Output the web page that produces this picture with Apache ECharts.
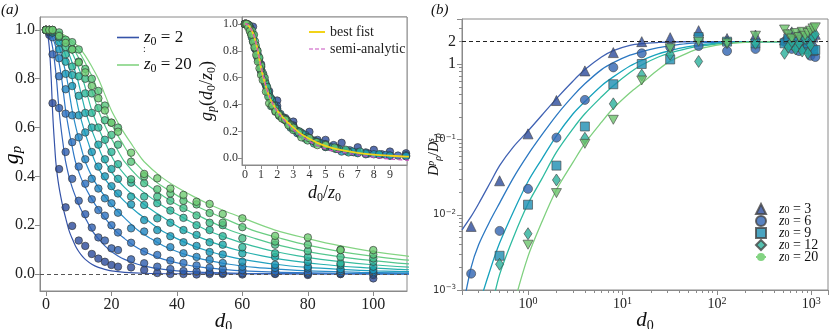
<!DOCTYPE html>
<html><head><meta charset="utf-8">
<script src="https://cdn.jsdelivr.net/npm/echarts@6.0.0/dist/echarts.min.js"></script>
<style>html,body{margin:0;padding:0;background:#fff}#c{width:831px;height:329px}</style>
</head><body><div id="c"></div>
<script>
// ---------- Panel (a) data ----------
const D0_A = [0,1,2,4,6,8,10,12,14,16,18,20,22,26,30,34,38,42,46,50,54,60,70,80,90,100];
const Z0_A = [2,4,6,8,10,12,14,16,18,20];
const gp_z2  = [1.0,0.98,0.70,0.43,0.273,0.197,0.137,0.115,0.082,0.063,0.05,0.037,0.03,0.027,0.016,0.004,0.0,0.0,-0.002,0.0,0.0,-0.002,0.0,-0.004,0.0,-0.018];
const gp_z4  = [1.0,0.99,0.90,0.68,0.50,0.39,0.30,0.245,0.19,0.15,0.137,0.105,0.098,0.06,0.044,0.03,0.02,0.012,0.01,0.006,0.004,0.003,0.002,0.0,0.0,-0.004];
const gp_z6  = [1.0,0.995,0.97,0.81,0.657,0.54,0.44,0.37,0.306,0.262,0.239,0.2,0.17,0.128,0.092,0.078,0.055,0.045,0.035,0.026,0.02,0.016,0.01,0.006,0.004,0.002];
const gp_z8  = [1.0,0.995,0.99,0.884,0.757,0.65,0.56,0.47,0.39,0.35,0.31,0.29,0.251,0.187,0.174,0.133,0.11,0.085,0.07,0.058,0.045,0.03,0.025,0.023,0.012,0.008];
const gp_z10 = [1.0,1.0,0.99,0.92,0.82,0.77,0.65,0.58,0.50,0.44,0.40,0.36,0.33,0.285,0.221,0.18,0.155,0.13,0.115,0.09,0.08,0.05,0.038,0.03,0.02,0.016];
const gp_z12 = [1.0,1.0,0.99,0.95,0.87,0.815,0.73,0.66,0.6,0.53,0.47,0.43,0.39,0.317,0.283,0.228,0.21,0.18,0.16,0.13,0.12,0.084,0.07,0.05,0.037,0.03];
const gp_z14 = [1.0,1.0,0.995,0.97,0.9,0.85,0.81,0.74,0.66,0.6,0.55,0.5,0.45,0.374,0.317,0.29,0.26,0.23,0.2,0.18,0.155,0.11,0.085,0.07,0.044,0.05];
const gp_z16 = [1.0,1.0,1.0,0.98,0.93,0.92,0.87,0.8,0.74,0.68,0.63,0.57,0.53,0.388,0.372,0.317,0.3,0.27,0.24,0.21,0.2,0.146,0.12,0.094,0.07,0.064];
const gp_z18 = [1.0,1.0,1.0,0.99,0.96,0.95,0.92,0.84,0.8,0.75,0.69,0.62,0.6,0.46,0.40,0.347,0.33,0.3,0.285,0.25,0.21,0.192,0.133,0.12,0.1,0.08];
const gp_z20 = [1.0,1.0,1.0,0.975,0.947,0.92,0.867,0.826,0.77,0.72,0.67,0.62,0.583,0.497,0.41,0.392,0.35,0.324,0.296,0.287,0.246,0.228,0.156,0.15,0.098,0.098];
const GP_A = [gp_z2,gp_z4,gp_z6,gp_z8,gp_z10,gp_z12,gp_z14,gp_z16,gp_z18,gp_z20];

// master curve (inset, x = d0/z0)
const fitRatio = [0,0.1,0.2,0.3,0.4,0.5,0.6,0.7,0.8,0.9,1.0,1.1,1.2,1.3,1.4,1.5,1.75,2,2.25,2.5,2.75,3,3.5,4,4.5,5,5.5,6,7,8,9,10,12,15,20,30,60];
const fitG     = [1.0,0.998,0.99,0.975,0.955,0.93,0.895,0.85,0.80,0.735,0.67,0.62,0.575,0.535,0.495,0.46,0.40,0.355,0.318,0.285,0.256,0.23,0.18,0.145,0.115,0.092,0.074,0.06,0.04,0.027,0.019,0.013,0.007,0.003,0.001,0.0002,0];
const semiRatio = [0,0.1,0.2,0.3,0.4,0.5,0.6,0.7,0.8,0.9,1.0,1.1,1.2,1.3,1.4,1.5,1.75,2,2.25,2.5,2.75,3,3.5,4,4.5,5,5.5,6,7,8,9,10,10.5];
const semiG     = [1.0,1.0,0.992,0.978,0.957,0.93,0.895,0.85,0.80,0.74,0.68,0.63,0.585,0.54,0.50,0.465,0.40,0.35,0.31,0.275,0.245,0.215,0.165,0.125,0.095,0.07,0.055,0.045,0.025,0.008,-0.006,-0.013,-0.015];

// ---------- Panel (b) data ----------
const Z0_B = [3,6,9,12,20];
const dB  = [0.25,0.5,1,2,4,8,16,32,64,128,256];
const dBc = [520,570,620,680,740,800,860,920,980,1040,1100];
const Db_z3  = [0.0070,0.0283,0.119,0.33,0.817,1.43,2.0,2.26,2.8,2.2,2.45];
const Db_z6  = [0.00165,0.0061,0.0221,0.106,0.336,0.91,1.4,1.7,1.75,1.5,1.6];
const Db_z9  = [null,0.00285,0.0136,0.045,0.149,0.543,1.01,1.16,2.3,2.0,1.9];
const Db_z12 = [null,0.0022,0.0056,0.029,0.104,0.298,0.72,1.36,1.09,1.94,1.9];
const Db_z20 = [null,null,0.0040,0.0194,0.0877,0.183,0.61,1.63,2.0,1.9,2.4];
const Dbc_z3  = [2.1,2.5,2.7,2.3,2.6,2.2,2.4,2.0,2.6,2.3,2.5];
const Dbc_z6  = [2.0,1.8,1.6,1.7,1.5,1.9,1.6,1.8,1.3,1.7,1.25];
const Dbc_z9  = [1.9,2.2,1.8,2.0,1.7,2.1,1.6,1.9,2.2,1.5,1.55];
const Dbc_z12 = [1.4,1.7,2.0,1.6,1.9,1.5,2.2,1.4,1.8,2.3,2.5];
const Dbc_z20 = [2.9,2.5,2.2,2.6,2.3,2.7,2.4,2.6,2.8,3.0,3.1];
const DB_PTS = [Db_z3,Db_z6,Db_z9,Db_z12,Db_z20];
const DB_CL  = [Dbc_z3,Dbc_z6,Dbc_z9,Dbc_z12,Dbc_z20];

const dCurve = [0.2,0.25,0.3,0.4,0.5,0.7,1,1.4,2,3,4,6,8,12,16,24,32,48,64,128,256,512,1100];
const cb_z3  = [0.0063,0.0095,0.014,0.027,0.045,0.08,0.13,0.21,0.35,0.6,0.85,1.25,1.52,1.78,1.88,1.95,1.98,1.995,2.0,2.0,2.0,2.0,2.0];
const cb_z6  = [0.0005,0.0020,0.0040,0.0085,0.0143,0.031,0.063,0.115,0.21,0.38,0.55,0.85,1.05,1.32,1.47,1.66,1.76,1.88,1.93,1.99,2.0,2.0,2.0];
const cb_z9  = [0.0001,0.00025,0.0006,0.0019,0.0042,0.011,0.0277,0.055,0.112,0.22,0.32,0.52,0.68,0.95,1.13,1.38,1.52,1.7,1.8,1.95,1.99,2.0,2.0];
const cb_z12 = [null,null,0.0001,0.0005,0.0016,0.0050,0.014,0.03,0.068,0.14,0.22,0.37,0.52,0.78,0.98,1.25,1.42,1.62,1.74,1.92,1.99,2.0,2.0];
const cb_z20 = [null,null,null,null,0.0001,0.0006,0.0028,0.008,0.0215,0.05,0.089,0.17,0.26,0.42,0.56,0.85,1.1,1.4,1.6,1.88,1.98,2.0,2.0];
const CB = [cb_z3,cb_z6,cb_z9,cb_z12,cb_z20];

// ---------- styles ----------
const serif = 'Liberation Serif';
const COL_A = ['#2b4a9b','#2d5cae','#2a6fbe','#1f84c2','#1797b8','#1ba8aa','#2bb69a','#42bf88','#59c67a','#6fcc72'];
const LCOL_A = ['#3553a8','#3564b8','#2f78c6','#2a8cc8','#22a0bf','#25b0ae','#38bd9e','#52c68e','#6acd82','#84d483'];
const COL_B = ['#2c4b9b','#2f64b2','#1d8db2','#2bb09b','#6cc46c'];
const LCOL_B = ['#4062b3','#2c78c2','#17a2bd','#2fbba0','#7fd07f'];
const SYM_B = ['triangle','circle','rect','diamond','path://M0,0L10,0L5,9Z'];
const SYMS_B = [10,9,9,[8,12],[10,9]];

function richSet(fs, lhf) {
  const lh = Math.round(fs * (lhf || 1.2));
  const ss = Math.round(fs * 0.68);
  return {
    i: {fontFamily: serif, fontStyle: 'italic', fontSize: fs, lineHeight: lh, color: '#111'},
    n: {fontFamily: serif, fontSize: fs, lineHeight: lh, color: '#111'},
    s: {fontFamily: serif, fontSize: ss, lineHeight: ss, verticalAlign: 'bottom', color: '#111'},
    si: {fontFamily: serif, fontStyle: 'italic', fontSize: ss, lineHeight: ss, verticalAlign: 'bottom', color: '#111'},
    u: {fontFamily: serif, fontStyle: 'italic', fontSize: ss, lineHeight: ss, verticalAlign: 'top', color: '#111'}
  };
}
const zName = name => '{i|z}{s|0}{n| = ' + name.split('= ')[1] + '}';
const AX = '#8a8a8a';
function isPow(v) { const e = Math.log10(v); return Math.abs(e - Math.round(e)) < 1e-6 ? Math.round(e) : null; }
const minorX = [], minorY = [];
for (let e = -1; e <= 3; e++) for (let m = 2; m <= 9; m++) { const v = m * Math.pow(10, e); if (v > 0.2 && v < 1500) minorX.push(Math.log10(v)); }
for (let e = -3; e <= 0; e++) for (let m = 2; m <= 9; m++) { const v = m * Math.pow(10, e); if (v < 4) minorY.push(Math.log10(v)); }

const series = [];
Z0_A.forEach((z, k) => {
  const s = {
    type: 'line', name: (k === 0 || k === 9) ? ('z0 = ' + z) : ('fit' + z),
    xAxisIndex: 0, yAxisIndex: 0, symbol: 'none', smooth: 0.3, z: 2,
    lineStyle: {color: LCOL_A[k], width: 1.2}, itemStyle: {color: LCOL_A[k]},
    data: fitRatio.map((r, i) => [r * z, fitG[i]])
  };
  if (k === 0) s.markLine = {silent: true, symbol: ['none','none'], label: {show: false},
    lineStyle: {type: [4,3], color: '#555', width: 1.2}, data: [{yAxis: 0}]};
  series.push(s);
});
Z0_A.forEach((z, k) => {
  series.push({type: 'scatter', name: 'pts' + z, xAxisIndex: 0, yAxisIndex: 0, z: 3,
    symbolSize: 7.5, itemStyle: {color: COL_A[k], borderColor: '#333', borderWidth: 0.8},
    data: D0_A.map((d, i) => [d, GP_A[k][i]]).filter(p => p[1] !== null)});
});
Z0_A.forEach((z, k) => {
  series.push({type: 'scatter', name: 'ins' + z, xAxisIndex: 1, yAxisIndex: 1, z: 7,
    symbolSize: 7.5, itemStyle: {color: COL_A[k], borderColor: '#333', borderWidth: 0.8},
    data: D0_A.map((d, i) => [d / z, GP_A[k][i]]).filter(p => p[0] <= 10.06 && p[1] !== null)});
});
series.push({type: 'line', name: 'best fist', xAxisIndex: 1, yAxisIndex: 1, z: 8, symbol: 'none', smooth: 0.3,
  lineStyle: {color: '#f2d319', width: 1.8}, itemStyle: {color: '#f2d319'},
  data: fitRatio.map((r, i) => [r, fitG[i]]).filter(p => p[0] <= 12)});
series.push({type: 'line', name: 'semi-analytic', xAxisIndex: 1, yAxisIndex: 1, z: 8, symbol: 'none', smooth: 0.3,
  lineStyle: {color: '#c84fc0', width: 1.3, type: [4,3]}, itemStyle: {color: '#c84fc0'},
  data: semiRatio.map((r, i) => [r, semiG[i]])});
Z0_B.forEach((z, k) => {
  const s = {type: 'line', name: 'cb' + z, xAxisIndex: 2, yAxisIndex: 2, symbol: 'none', smooth: 0.3, z: 2,
    lineStyle: {color: LCOL_B[k], width: 1.3}, itemStyle: {color: LCOL_B[k]},
    data: dCurve.map((d, i) => [d, CB[k][i]]).filter(p => p[1] !== null)};
  if (k === 0) s.markLine = {silent: true, symbol: ['none','none'],
    lineStyle: {type: [4,3], color: '#222', width: 1},
    label: {show: true, position: 'start', formatter: '2', fontFamily: serif, fontSize: 16, color: '#222', distance: 6},
    data: [{yAxis: 2}]};
  series.push(s);
});
Z0_B.forEach((z, k) => {
  const pts = dB.map((d, i) => [d, DB_PTS[k][i]]).concat(dBc.map((d, i) => [d, DB_CL[k][i]])).filter(p => p[1] !== null);
  series.push({type: 'scatter', name: 'z0 = ' + z, xAxisIndex: 2, yAxisIndex: 2, z: 3,
    symbol: SYM_B[k], symbolSize: SYMS_B[k],
    itemStyle: {color: COL_B[k], borderColor: '#444', borderWidth: 0.8}, data: pts});
});

const valAxisCommon = {
  axisLine: {show: true, onZero: false, lineStyle: {color: AX}},
  splitLine: {show: false}
};

const option = {
  animation: false,
  backgroundColor: '#fff',
  grid: [
    {left: 40, top: 17, width: 367, height: 274, show: true, borderColor: AX, borderWidth: 1, outerBoundsMode: 'none', containLabel: false},
    {left: 242, top: 17, width: 165, height: 148, show: true, borderColor: AX, borderWidth: 1, backgroundColor: '#fff', z: 4, outerBoundsMode: 'none', containLabel: false},
    {left: 462, top: 19, width: 366, height: 271, show: true, borderColor: AX, borderWidth: 1, outerBoundsMode: 'none', containLabel: false}
  ],
  xAxis: [
    Object.assign({gridIndex: 0, type: 'value', min: -1.83, max: 110.3,
      axisTick: {show: true, length: 5, customValues: [0,20,40,60,80,100], lineStyle: {color: AX}},
      axisLabel: {customValues: [0,20,40,60,80,100], fontFamily: serif, fontSize: 16, color: '#222', margin: 6},
      name: '{i|d}{s|0}', nameLocation: 'middle', nameGap: 18, nameMoveOverlap: false, nameTextStyle: {rich: richSet(21)}}, valAxisCommon),
    Object.assign({gridIndex: 1, type: 'value', min: -0.186, max: 10.06, z: 6,
      axisTick: {show: true, length: 4, customValues: [0,1,2,3,4,5,6,7,8,9], lineStyle: {color: AX}},
      axisLabel: {customValues: [0,1,2,3,4,5,6,7,8,9], fontFamily: serif, fontSize: 12, color: '#333', margin: 4},
      name: '{i|d}{s|0}{n|/}{i|z}{s|0}', nameLocation: 'middle', nameGap: 17, nameTextStyle: {rich: richSet(18)}}, valAxisCommon),
    {gridIndex: 2, type: 'log', logBase: 10, min: 0.2, max: 1500,
      axisLine: {show: true, onZero: false, lineStyle: {color: AX}}, splitLine: {show: false},
      axisTick: {show: true, length: 5, lineStyle: {color: AX}},
      axisLabel: {margin: 6, formatter: v => { const e = isPow(v); return e === null ? '' : '{b|10}{e|' + String(e).replace('-', '\u2212') + '}'; },
        rich: {b: {fontFamily: serif, fontSize: 14, color: '#222', lineHeight: 16},
               e: {fontFamily: serif, fontSize: 10, color: '#222', verticalAlign: 'top', lineHeight: 10}}},
      name: '{i|d}{s|0}', nameLocation: 'middle', nameGap: 18, nameMoveOverlap: false, nameTextStyle: {rich: richSet(21)}},
    {gridIndex: 2, type: 'value', min: Math.log10(0.2), max: Math.log10(1500), position: 'bottom',
      axisLine: {show: false, onZero: false}, splitLine: {show: false}, axisLabel: {show: false},
      axisTick: {show: true, length: 3, customValues: minorX, lineStyle: {color: AX}}}
  ],
  yAxis: [
    Object.assign({gridIndex: 0, type: 'value', min: -0.0697, max: 1.053,
      axisTick: {show: true, length: 5, customValues: [0,0.2,0.4,0.6,0.8,1.0], lineStyle: {color: AX}},
      axisLabel: {customValues: [0,0.2,0.4,0.6,0.8,1.0], formatter: v => v.toFixed(1), fontFamily: serif, fontSize: 16, color: '#222', margin: 5}}, valAxisCommon),
    Object.assign({gridIndex: 1, type: 'value', min: -0.05, max: 1.052, z: 6,
      axisTick: {show: true, length: 4, customValues: [0,0.2,0.4,0.6,0.8,1.0], lineStyle: {color: AX}},
      axisLabel: {customValues: [0,0.2,0.4,0.6,0.8,1.0], formatter: v => v.toFixed(1), fontFamily: serif, fontSize: 12, color: '#333', margin: 4},
      name: '{i|g}{si|p}{n|(}{i|d}{s|0}{n|/}{i|z}{s|0}{n|)}', nameLocation: 'middle', nameRotate: 90, nameGap: 24, nameTextStyle: {rich: richSet(18)}}, valAxisCommon),
    {gridIndex: 2, type: 'log', logBase: 10, min: 0.001, max: 4,
      axisLine: {show: true, onZero: false, lineStyle: {color: AX}}, splitLine: {show: false},
      axisTick: {show: true, length: 5, lineStyle: {color: AX}},
      axisLabel: {margin: 6, formatter: v => { const e = isPow(v); if (e === null) return ''; if (e === 0) return '{big|1}'; return '{b|10}{e|' + String(e).replace('-', '\u2212') + '}'; },
        rich: {b: {fontFamily: 'DejaVu Sans', fontSize: 10, color: '#333', lineHeight: 12},
               e: {fontFamily: 'DejaVu Sans', fontSize: 7, color: '#333', verticalAlign: 'top', lineHeight: 7},
               big: {fontFamily: serif, fontSize: 16, color: '#222'}}},
      name: '{i|D}{u|p}{si|ρ}{n|/}{i|D}{u|s}{si|ρ}', nameLocation: 'middle', nameRotate: 90, nameGap: 19, nameMoveOverlap: false,
      nameTextStyle: {rich: richSet(14)}},
    {gridIndex: 2, type: 'value', min: -3, max: Math.log10(4), position: 'left',
      axisLine: {show: false, onZero: false}, splitLine: {show: false}, axisLabel: {show: false},
      axisTick: {show: true, length: 3, customValues: minorY, lineStyle: {color: AX}}}
  ],
  legend: [
    {data: [{name: 'z0 = 2', icon: 'rect'}, {name: 'z0 = 20', icon: 'rect'}], left: 112, top: 24, orient: 'vertical',
     itemWidth: 22, itemHeight: 1.6, itemGap: 9, selectedMode: false, formatter: zName, textStyle: {rich: richSet(17)}},
    {data: [{name: 'best fist', icon: 'rect'}, {name: 'semi-analytic', icon: 'path://M0,0H4V1H0Z M6,0H10V1H6Z M12,0H16V1H12Z'}],
     left: 304, top: 20, orient: 'vertical', itemWidth: 16, itemHeight: 2, itemGap: 3,
     selectedMode: false, textStyle: {fontFamily: serif, fontSize: 14, color: '#222'}, z: 9},
    {data: Z0_B.map(z => 'z0 = ' + z), left: 750, top: 197, orient: 'vertical', itemWidth: 10, itemHeight: 10, itemGap: -2,
     selectedMode: false, formatter: zName, textStyle: {lineHeight: 13, padding: [0, 0, 0, 8], rich: richSet(14, 0.95)}}
  ],
  graphic: [
    {type: 'text', left: 1, top: 3, style: {text: '(a)', font: 'italic 15px "Liberation Serif"', fill: '#111'}},
    {type: 'text', left: 431, top: 3, style: {text: '(b)', font: 'italic 15px "Liberation Serif"', fill: '#111'}},
    {type: 'text', left: 143, top: 44, style: {text: ':', font: '10px "Liberation Serif"', fill: '#222'}},
    {type: 'text', x: 12, y: 155, rotation: Math.PI / 2,
     style: {text: '{i|g}{si|p}', rich: richSet(22), align: 'center', verticalAlign: 'middle'}}
  ],
  series: series
};
const chart = echarts.init(document.getElementById('c'));
chart.setOption(option);
</script></body></html>
